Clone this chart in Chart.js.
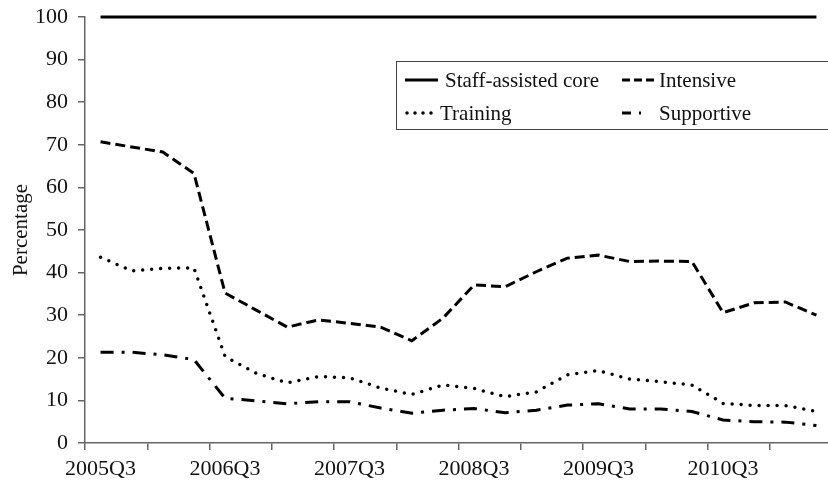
<!DOCTYPE html>
<html>
<head>
<meta charset="utf-8">
<script src="https://cdn.jsdelivr.net/npm/chart.js@4.4.0/dist/chart.umd.min.js"></script>
<style>
body{margin:0;overflow:hidden;background:#fff}
#wrap{width:840px;height:483px;position:relative}
</style>
</head>
<body>
<div id="wrap"><canvas id="myChart"></canvas></div>
<script>
var quarters = ["2005Q3","2005Q4","2006Q1","2006Q2","2006Q3","2006Q4","2007Q1","2007Q2",
                "2007Q3","2007Q4","2008Q1","2008Q2","2008Q3","2008Q4","2009Q1","2009Q2",
                "2009Q3","2009Q4","2010Q1","2010Q2","2010Q3","2010Q4","2011Q1","2011Q2"];
var seriesNames = ["Staff-assisted core","Intensive","Training","Supportive"];
var staffCore  = [100,100,100,100,100,100,100,100,100,100,100,100,100,100,100,100,100,100,100,100,100,100,100,100];
var intensive  = [70.7,69.5,68.3,63.3,35.2,31.2,27.2,28.9,28.1,27.2,24.0,29.3,37.1,36.7,40.2,43.4,44.1,42.6,42.7,42.6,30.6,32.9,33.1,30.0];
var training   = [43.6,40.4,41.0,41.1,20.3,16.4,14.1,15.6,15.3,12.9,11.4,13.6,12.8,10.9,12.0,16.0,17.0,15.0,14.4,13.6,9.3,8.8,8.8,7.4];
var supportive = [21.3,21.3,20.7,19.6,10.5,9.9,9.2,9.7,9.7,8.2,7.0,7.7,8.1,7.1,7.7,8.9,9.2,8.0,8.0,7.4,5.4,5.0,4.9,4.1];

var serif = "'Liberation Serif','Times New Roman',serif";
Chart.defaults.font.family = serif;
Chart.defaults.color = "#111";

// legend drawn by hand, two columns inside a box
var legendBox = {
  id: 'legendBox',
  afterDraw: function(chart) {
    var ctx = chart.ctx;
    var ds = chart.data.datasets;
    ctx.save();
    ctx.strokeStyle = "#444";
    ctx.lineWidth = 1;
    ctx.strokeRect(396.5, 61.5, 460, 68);
    var spots = [[405,80,445],[622,80,659],[405,113,440],[622,113,659]];
    var samples = [[], [8,4], [0,8], [9,8,2,30]];
    for (var i = 0; i < ds.length; i++) {
      var s = spots[i];
      ctx.beginPath();
      ctx.setLineDash(samples[i]);
      ctx.lineCap = ds[i].borderCapStyle || 'butt';
      ctx.lineWidth = ds[i].borderWidth;
      ctx.strokeStyle = "#000";
      ctx.moveTo(s[0] + (i == 2 ? 2 : 0), s[1]);
      ctx.lineTo(s[0] + 33, s[1]);
      ctx.stroke();
      ctx.setLineDash([]);
      ctx.fillStyle = "#111";
      ctx.font = "21px " + serif;
      ctx.textBaseline = "middle";
      ctx.fillText(ds[i].label, s[2], s[1] + 1);
    }
    ctx.restore();
  }
};

new Chart(document.getElementById("myChart"), {
  type: 'line',
  data: {
    labels: quarters,
    datasets: [
      {label: seriesNames[0], data: staffCore, borderColor: "#000", borderWidth: 3, pointRadius: 0, clip: 4},
      {label: seriesNames[1], data: intensive, borderColor: "#000", borderWidth: 3, borderDash: [10,5], pointRadius: 0},
      {label: seriesNames[2], data: training, borderColor: "#000", borderWidth: 3.5, borderDash: [0,9], borderCapStyle: 'round', pointRadius: 0},
      {label: seriesNames[3], data: supportive, borderColor: "#000", borderWidth: 3, borderDash: [13,8,3,8], pointRadius: 0}
    ]
  },
  options: {
    responsive: true,
    maintainAspectRatio: false,
    animation: false,
    layout: {padding: {top: 17, right: 8, bottom: 0, left: 0}},
    plugins: {legend: {display: false}, tooltip: {enabled: false}},
    scales: {
      x: {
        offset: true,
        grid: {
          offset: true,
          drawOnChartArea: false,
          tickLength: 7,
          tickColor: function(c) { return (c.index !== undefined && c.index % 2 === 0) ? "#666" : "rgba(0,0,0,0)"; },
          lineWidth: 1.5
        },
        border: {color: "#666", width: 1.5},
        ticks: {
          autoSkip: false,
          maxRotation: 0,
          padding: 6,
          font: {size: 22},
          callback: function(val, i) { return i % 4 === 0 ? this.getLabelForValue(val) : ''; }
        },
        afterFit: function(scale) { scale.height = 40; scale.paddingLeft = 0; scale.paddingRight = 0; }
      },
      y: {
        min: 0,
        max: 100,
        grid: {drawOnChartArea: false, tickLength: 7, tickColor: "#666", lineWidth: 1.5},
        border: {color: "#666", width: 1.5},
        ticks: {stepSize: 10, padding: 10, font: {size: 22}},
        title: {display: true, text: "Percentage", font: {size: 21}, padding: 9},
        afterFit: function(scale) { scale.width = 85; scale.paddingTop = 0; scale.paddingBottom = 0; }
      }
    }
  },
  plugins: [legendBox]
});
</script>
</body>
</html>
